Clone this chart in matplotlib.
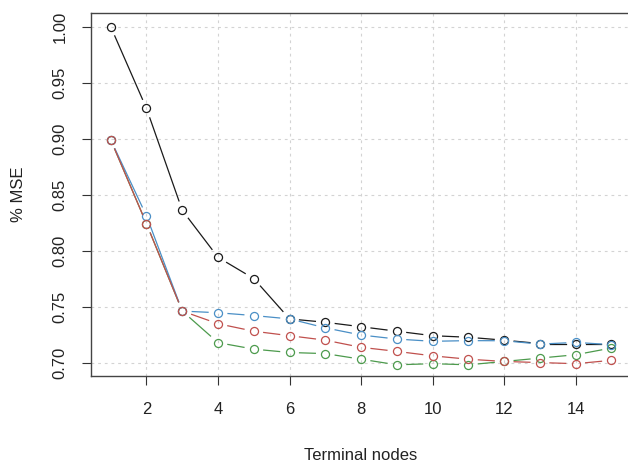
import numpy as np
import matplotlib
matplotlib.use('Agg')
import matplotlib.pyplot as plt

plt.rcParams['font.family'] = ['Liberation Sans', 'DejaVu Sans']

# ── data ────────────────────────────────────────────────────────────────────
nodes = np.arange(1, 16)
mse_black = [1.000, 0.927, 0.836, 0.794, 0.775, 0.739, 0.736, 0.732, 0.728,
             0.724, 0.7226, 0.720, 0.717, 0.717, 0.717]
mse_green = [0.899, 0.824, 0.746, 0.7178, 0.712, 0.709, 0.708, 0.703, 0.698,
             0.699, 0.698, 0.701, 0.704, 0.707, 0.713]
mse_blue = [0.899, 0.831, 0.746, 0.7445, 0.742, 0.739, 0.731, 0.7246, 0.721,
            0.719, 0.7196, 0.7195, 0.7165, 0.718, 0.716]
mse_red = [0.899, 0.824, 0.746, 0.7347, 0.728, 0.724, 0.720, 0.7136, 0.710,
           0.706, 0.703, 0.701, 0.700, 0.699, 0.702]

series = [(mse_black, '#1a1a1a'), (mse_green, '#4c9a4c'),
          (mse_blue, '#4a8fc6'), (mse_red, '#c0504d')]

xticks = [2, 4, 6, 8, 10, 12, 14]
yticks = [0.70, 0.75, 0.80, 0.85, 0.90, 0.95, 1.00]

# ── figure (R base-graphics look) ───────────────────────────────────────────
fig = plt.figure(figsize=(6.28, 4.65), dpi=100)
ax = fig.add_axes([90.7 / 628, 89 / 465, 540.8 / 628, 362.7 / 465])
ax.set_xlim(0.44, 15.56)
ax.set_ylim(0.688, 1.012)

ax.set_xticks(xticks)
ax.set_yticks(yticks)
ax.set_yticklabels([f'{v:.2f}' for v in yticks], rotation=90, va='center')
ax.tick_params(axis='both', direction='out', length=6.5, width=0.8,
               color='#333333', labelsize=12, labelcolor='#222222')
ax.tick_params(axis='x', pad=12)
ax.tick_params(axis='y', pad=10)
for s in ax.spines.values():
    s.set_color('#444444')
    s.set_linewidth(1.0)

# grid like R's grid(): light gray dotted at tick positions
for xv in xticks:
    ax.axvline(xv, color='#d3d3d3', lw=0.8, ls=(0, (2.5, 3.5)), zorder=0)
for yv in yticks:
    ax.axhline(yv, color='#d3d3d3', lw=0.8, ls=(0, (2.5, 3.5)), zorder=0)

ax.set_xlabel('Terminal nodes', fontsize=12, color='#222222')
ax.set_ylabel('% MSE', fontsize=12, color='#222222')
ax.xaxis.set_label_coords(0.5, (376 - 455) / 362.7)
ax.xaxis.label.set_verticalalignment('center')
ax.yaxis.set_label_coords((18 - 90.7) / 540.8, 0.5)
ax.yaxis.label.set_verticalalignment('center')

# type="b": points joined by segments with a gap around each point
gap = 10  # pixels
fig.canvas.draw()
to_disp = ax.transData
to_data = ax.transData.inverted()
for k, (vals, col) in enumerate(series):
    pts = to_disp.transform(np.column_stack([nodes, vals]))
    for p0, p1 in zip(pts[:-1], pts[1:]):
        d = p1 - p0
        L = np.hypot(*d)
        if L <= 2 * gap:
            continue
        u = d / L
        seg = to_data.transform(np.array([p0 + u * gap, p1 - u * gap]))
        ax.plot(seg[:, 0], seg[:, 1], color=col, lw=0.9, zorder=2 + k)
    ax.plot(nodes, vals, ls='none', marker='o', ms=5.8, mfc='none',
            mec=col, mew=0.9, zorder=2 + k)

fig.savefig('out.png', dpi=100)
